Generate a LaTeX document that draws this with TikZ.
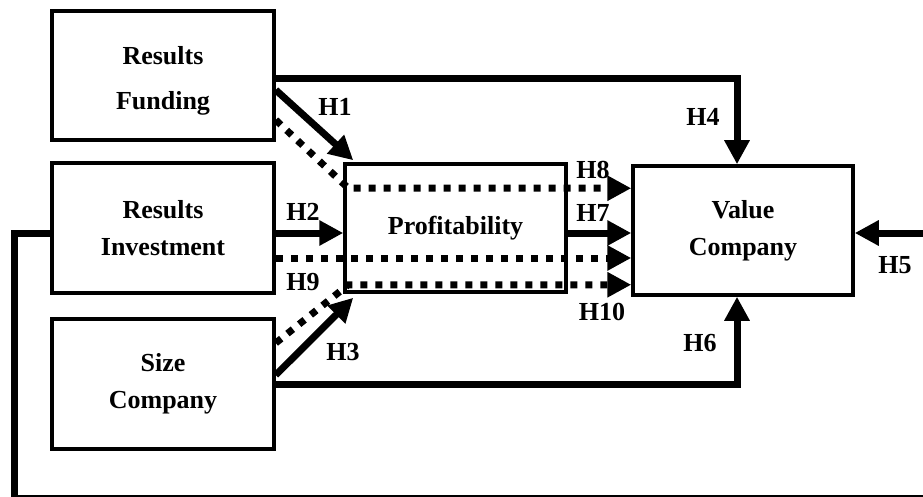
\documentclass[tikz,border=0pt]{standalone}
\usepackage{fontspec}
\setmainfont{Liberation Serif}
\usetikzlibrary{arrows.meta}

\tikzset{
	box/.style={shape=rectangle, draw, line width=3.5pt, inner sep=0, minimum width=222pt, minimum height=129pt, align=center, font=\bfseries\fontsize{26}{37}\selectfont},
	hlab/.style={font=\bfseries\fontsize{26}{30}\selectfont, inner sep=0},
	arrline/.style={line width=7pt, -{Triangle[length=24pt,width=24pt]}},
	dotline/.style={line width=7pt, dash pattern=on 7pt off 8pt},
	dotarr/.style={dotline, -{Triangle[length=24pt,width=24pt]}}
}

\begin{document}
\begin{tikzpicture}[x=1pt, y=-1pt]
	\useasboundingbox (0,0) rectangle (923,497);
	% Boxes:
	\node[box](fund) at (163, 75.5){\rule{0pt}{28pt}Results\\[8pt]Funding};
	\node[box, minimum height=130pt](invest) at (163, 228){Results\\Investment};
	\node[box, minimum height=130pt](size) at (163, 384){Size\\Company};
	\node[box, minimum width=221pt, minimum height=128pt](profit) at (455.5, 228){Profitability};
	\node[box, minimum width=220pt](value) at (743, 230.5){Value\\Company};
	% Paths into Profitability:
	\draw[arrline] ([yshift=-14.5pt]fund.east) -- ([xshift=10pt,yshift=2pt]profit.north west);
	\draw[arrline] ([yshift=-5pt]invest.east) -- ([yshift=-5pt]profit.west);
	\draw[arrline] ([yshift=9pt]size.east) -- ([xshift=10pt,yshift=-4pt]profit.south west);
	% Direct paths into Value:
	\draw[arrline] ([yshift=-3.5pt]fund.east) -| ([xshift=-6pt]value.north);
	\draw[arrline] (size.east) -| ([xshift=-6pt]value.south);
	\coordinate (h5in) at (930, 233);
	\draw[arrline] (h5in) -- (value.east |- h5in);
	\draw[arrline] ([yshift=-5pt]profit.east) coordinate (h7s) -- (h7s -| value.west);
	% Dotted (indirect) paths:
	\coordinate (h8bend) at ([xshift=5pt,yshift=-26pt]profit.north west);
	\draw[dotarr] ([yshift=-44.5pt]fund.east) -- (h8bend) -- (h8bend -| value.west);
	\draw[dotarr] ([yshift=-30pt]invest.east) coordinate (h9s) -- (h9s -| value.west);
	\coordinate (h10bend) at ([xshift=5pt,yshift=9pt]profit.south west);
	\draw[dotarr] ([yshift=41pt]size.east) -- (h10bend) -- (h10bend -| value.west);
	% Feedback line:
	\coordinate (fbend) at (940, 498);
	\draw[line width=7pt] ([yshift=-5pt]invest.west) -| (14, 498) -- (fbend);
	% Labels:
	\node[hlab](h1) at (335, 107){H1};
	\node[hlab](h2) at (303, 212){H2};
	\node[hlab](h3) at (343, 352){H3};
	\node[hlab](h4) at (703, 117){H4};
	\node[hlab](h5) at (895, 265){H5};
	\node[hlab](h6) at (700, 343){H6};
	\node[hlab](h7) at (593, 213){H7};
	\node[hlab](h8) at (593, 170){H8};
	\node[hlab](h9) at (303, 282){H9};
	\node[hlab](h10) at (602, 312){H10};
\end{tikzpicture}
\end{document}
